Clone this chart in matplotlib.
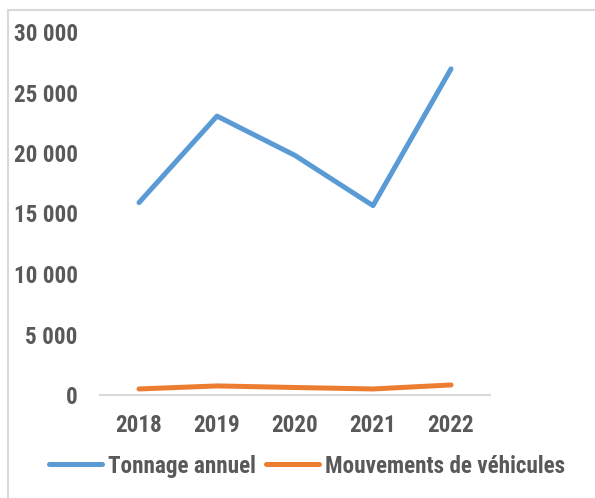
import matplotlib.pyplot as plt
from matplotlib.patches import Rectangle

years = ['2018', '2019', '2020', '2021', '2022']
tonnage = [15900, 23050, 19800, 15650, 26950]
mouvements = [500, 750, 620, 500, 830]
yticks = [0, 5000, 10000, 15000, 20000, 25000, 30000]
ytick_labels = ['0', '5 000', '10 000', '15 000', '20 000', '25 000', '30 000']

font = ['Roboto Condensed', 'Liberation Sans', 'DejaVu Sans']
grey = '#595959'

plt.rcParams['font.family'] = font
plt.rcParams['font.weight'] = 'bold'

fig = plt.figure(figsize=(5.95, 4.98), dpi=100)

# light frame of the chart area (cut at right and bottom)
fig.patches.append(Rectangle((8 / 595, -0.1), 1.2, 1 - 10 / 498 + 0.1,
                             transform=fig.transFigure, fill=False,
                             edgecolor='#d9d9d9', linewidth=1.5))

ax = fig.add_axes([100 / 595, 1 - 395 / 498, 390 / 595, 363 / 498])
x = range(len(years))
ax.plot(x, tonnage, color='#5B9BD5', linewidth=3.6, solid_capstyle='round',
        label='Tonnage annuel')
ax.plot(x, mouvements, color='#ED7D31', linewidth=3.6, solid_capstyle='round',
        label='Mouvements de véhicules')

ax.set_xlim(-0.5, 4.5)
ax.set_ylim(0, 30000)
ax.set_xticks(list(x))
ax.set_xticklabels(years)
ax.set_yticks(yticks)
ax.set_yticklabels(ytick_labels)
ax.tick_params(axis='both', length=0, labelsize=16.7, labelcolor=grey)
ax.tick_params(axis='y', pad=16)
ax.tick_params(axis='x', pad=14)
for s in ['top', 'right', 'left']:
    ax.spines[s].set_visible(False)
ax.spines['bottom'].set_color('#d9d9d9')
ax.spines['bottom'].set_linewidth(1.5)

leg = fig.legend(loc='center', bbox_to_anchor=(307 / 595, 1 - 466 / 498),
                 ncol=2, frameon=False, fontsize=16.7, handlelength=2.3,
                 handletextpad=0.26, columnspacing=0.4)
for t in leg.get_texts():
    t.set_color(grey)

fig.savefig('out.png', dpi=100)
